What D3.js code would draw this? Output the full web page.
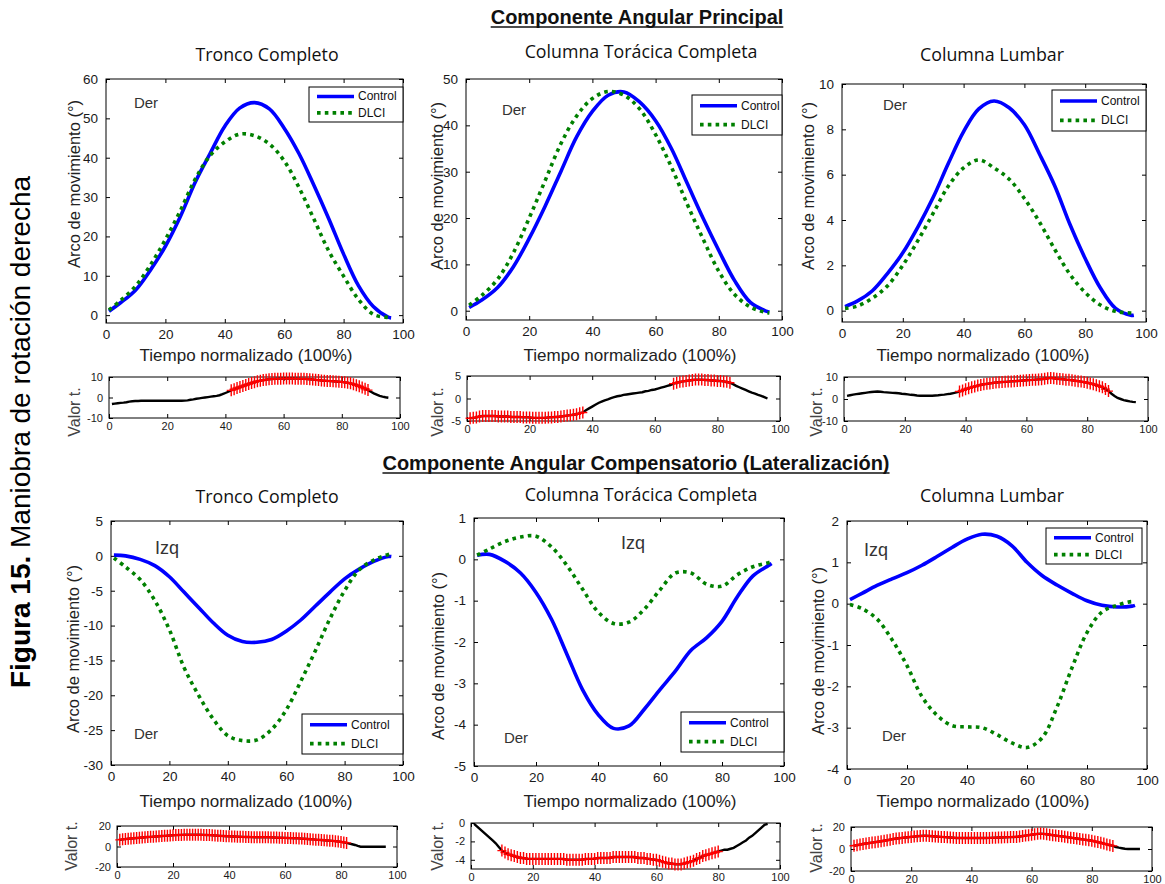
<!DOCTYPE html>
<html>
<head>
<meta charset="utf-8">
<script src="https://cdn.jsdelivr.net/npm/d3@7"></script>
<style>
  body { margin: 0; background: #fff; }
  svg { display: block; }
</style>
</head>
<body>
<svg id="fig" width="1165" height="884"></svg>
<script>
// ---------------------------------------------------------------
// Data
// ---------------------------------------------------------------
const tiempo = [1, 5, 10, 15, 20, 25, 30, 35, 40, 45, 50, 55, 60, 65, 70, 75, 80, 85, 90, 95, 96];
const tiempoT = d3.range(1, 97); // one t value per % of the cycle

// Componente angular principal (°)
const troncoPrinControl = [1.0, 3.2, 6.4, 11.5, 17.5, 25, 33.7, 41, 48, 52.6, 54, 52.4, 47.5, 41, 33, 24.5, 15.5, 7.5, 2.2, -0.5, -0.7];
const troncoPrinDLCI    = [1.3, 3.8, 7.4, 12.8, 19.2, 26.5, 34.5, 40.5, 44, 46, 45.6, 43.5, 39.2, 32.4, 24.4, 16.3, 9.9, 4, 0.2, -0.6, -0.7];
const toraxPrinControl  = [0.7, 2.3, 5, 9.5, 15.6, 22.5, 30, 37.5, 43, 46.5, 47.2, 45, 41, 35, 27.5, 20, 13, 6.5, 1.8, -0.1, -0.3];
const toraxPrinDLCI     = [1.2, 3.3, 6.8, 12.5, 20, 28, 36, 42, 45.8, 47.3, 46.5, 43.5, 38, 31, 23, 15.5, 8.5, 3.5, 0.8, -0.4, -0.5];
const lumbarPrinControl = [0.18, 0.42, 0.88, 1.65, 2.55, 3.7, 5.0, 6.5, 7.9, 8.9, 9.25, 8.95, 8.2, 6.9, 5.5, 3.8, 2.3, 1.0, 0.1, -0.2, -0.2];
const lumbarPrinDLCI    = [0.1, 0.2, 0.55, 1.1, 2.0, 3.1, 4.3, 5.5, 6.3, 6.65, 6.3, 5.8, 4.95, 3.9, 2.7, 1.6, 0.8, 0.25, -0.03, -0.1, -0.1];

// Componente angular compensatorio, lateralización (°)
const troncoCompControl = [0.1, 0, -0.5, -1.4, -3.0, -5.2, -7.4, -9.6, -11.4, -12.3, -12.4, -12, -10.8, -9.2, -7.2, -5.2, -3.3, -1.9, -0.8, -0.1, -0.1];
const troncoCompDLCI    = [-0.3, -1.6, -3.4, -6.4, -10.6, -16, -20, -23.4, -25.8, -26.5, -26.4, -24.9, -22.1, -18, -13.6, -9.0, -5.0, -2, -0.6, 0.2, 0.3];
const toraxCompControl  = [0.1, 0.12, -0.05, -0.33, -0.8, -1.45, -2.3, -3.15, -3.75, -4.09, -4.03, -3.62, -3.15, -2.7, -2.2, -1.9, -1.5, -0.9, -0.4, -0.15, -0.1];
const toraxCompDLCI     = [0.1, 0.25, 0.43, 0.54, 0.56, 0.3, -0.15, -0.72, -1.27, -1.55, -1.52, -1.2, -0.74, -0.33, -0.33, -0.6, -0.65, -0.37, -0.18, -0.08, -0.06];
const lumbarCompControl = [0.1, 0.25, 0.44, 0.6, 0.75, 0.93, 1.14, 1.36, 1.56, 1.68, 1.63, 1.4, 1.0, 0.68, 0.45, 0.25, 0.07, -0.04, -0.08, -0.06, -0.04];
const lumbarCompDLCI    = [-0.02, -0.12, -0.37, -0.87, -1.5, -2.25, -2.7, -2.95, -2.98, -3.0, -3.17, -3.37, -3.48, -3.25, -2.5, -1.55, -0.7, -0.2, -0.04, 0.05, 0.03];

// Valores t (Control vs DLCI), 1..96 %
const tTroncoPrin = [-3.2,-3.0,-2.8,-2.6,-2.5,-2.3,-2.0,-1.8,-1.7,-1.7,-1.6,-1.6,-1.6,-1.6,-1.6,-1.6,-1.6,-1.6,-1.6,-1.6,
  -1.6,-1.6,-1.6,-1.6,-1.6,-1.5,-1.4,-1.1,-0.9,-0.6,-0.4,-0.2,0.0,0.2,0.4,0.6,0.8,1.1,1.6,2.2,
  2.8,3.5,4.0,4.6,5.1,5.6,6.1,6.6,7.1,7.5,7.9,8.2,8.5,8.7,8.9,9.0,9.1,9.2,9.2,9.3,
  9.3,9.3,9.3,9.2,9.2,9.1,9.1,9.0,8.9,8.8,8.6,8.5,8.3,8.2,8.1,8.0,7.9,7.8,7.7,7.6,
  7.4,7.2,6.9,6.5,6.0,5.5,4.9,4.3,3.6,2.8,2.0,1.4,0.8,0.4,0.1,-0.1];
const tToraxPrin = [-4.4,-4.3,-4.2,-4.0,-3.9,-3.9,-3.9,-3.9,-3.9,-4.0,-4.0,-4.0,-4.0,-4.1,-4.1,-4.1,-4.1,-4.2,-4.2,-4.2,
  -4.3,-4.3,-4.3,-4.3,-4.3,-4.2,-4.2,-4.1,-4.1,-4.0,-3.9,-3.8,-3.7,-3.6,-3.5,-3.3,-3.1,-2.6,-2.2,-1.8,
  -1.4,-1.0,-0.7,-0.4,-0.2,0.1,0.3,0.5,0.6,0.8,0.9,1.0,1.1,1.2,1.3,1.4,1.6,1.7,1.9,2.0,
  2.2,2.4,2.6,2.8,3.0,3.3,3.5,3.7,3.8,3.9,4.0,4.1,4.2,4.2,4.2,4.1,4.1,4.0,4.0,3.9,
  3.9,3.8,3.7,3.5,3.2,2.8,2.5,2.2,1.9,1.6,1.3,1.1,0.8,0.6,0.3,0.0];
const tLumbarPrin = [1.4,1.7,2.0,2.2,2.4,2.6,2.8,3.0,3.2,3.3,3.4,3.3,3.1,3.0,2.9,2.8,2.7,2.6,2.4,2.3,
  2.1,1.9,1.8,1.6,1.5,1.5,1.5,1.5,1.5,1.6,1.7,1.9,2.0,2.2,2.4,2.7,3.0,3.4,3.9,4.4,
  4.9,5.3,5.7,6.1,6.4,6.7,6.9,7.1,7.3,7.5,7.6,7.7,7.8,7.9,8.0,8.1,8.2,8.3,8.4,8.5,
  8.6,8.7,8.8,8.9,9.0,9.2,9.4,9.6,9.4,9.2,9.1,9.0,8.8,8.7,8.5,8.3,8.1,7.9,7.7,7.4,
  7.1,6.7,6.3,5.8,5.3,4.5,3.6,2.4,1.4,0.5,0.0,-0.5,-0.8,-1.1,-1.3,-1.4];
const tTroncoComp = [6.5,7.0,7.2,7.5,7.8,8.0,8.3,8.5,8.8,9.0,9.2,9.4,9.6,9.8,10.0,10.2,10.4,10.6,10.8,11.0,
  11.1,11.2,11.3,11.4,11.5,11.5,11.5,11.5,11.5,11.4,11.3,11.2,11.1,11.0,10.8,10.6,10.4,10.2,10.0,9.9,
  9.8,9.7,9.6,9.5,9.4,9.3,9.2,9.1,9.0,9.0,9.0,9.0,9.0,9.0,8.9,8.8,8.7,8.6,8.5,8.4,
  8.3,8.2,8.1,8.0,7.9,7.7,7.5,7.3,7.1,6.9,6.7,6.5,6.3,6.1,5.9,5.7,5.5,5.2,4.9,4.5,
  4.0,3.5,2.8,2.2,1.5,0.6,-0.2,-0.3,-0.3,-0.3,-0.3,-0.3,-0.3,-0.3,-0.3,-0.3];
const tToraxComp = [-0.1,-0.4,-0.7,-1.0,-1.3,-1.6,-1.9,-2.2,-2.6,-3.0,-3.2,-3.4,-3.5,-3.6,-3.7,-3.8,-3.8,-3.9,-3.9,-3.9,
  -3.9,-3.9,-3.9,-3.9,-3.9,-3.9,-3.9,-3.9,-3.9,-3.9,-4.0,-4.0,-4.0,-4.0,-4.0,-4.0,-3.9,-3.9,-3.9,-3.9,
  -3.8,-3.8,-3.8,-3.8,-3.8,-3.7,-3.7,-3.7,-3.7,-3.7,-3.7,-3.7,-3.7,-3.8,-3.8,-3.8,-3.9,-3.9,-4.0,-4.0,
  -4.1,-4.2,-4.3,-4.4,-4.4,-4.5,-4.5,-4.5,-4.4,-4.3,-4.2,-4.1,-3.9,-3.8,-3.6,-3.5,-3.4,-3.3,-3.2,-3.1,
  -3.0,-2.9,-2.9,-2.8,-2.7,-2.5,-2.3,-2.1,-1.9,-1.6,-1.4,-1.1,-0.8,-0.5,-0.2,-0.1];
const tLumbarComp = [3.0,3.5,4.0,4.5,5.0,5.4,5.8,6.2,6.6,7.0,7.5,8.0,8.5,9.0,9.5,9.8,10.1,10.4,10.7,11.0,
  11.3,11.6,11.8,12.0,12.0,11.8,11.6,11.4,11.2,11.0,10.8,10.6,10.4,10.2,10.0,10.0,10.0,10.0,10.0,10.0,
  10.0,10.0,10.0,10.0,10.0,10.1,10.2,10.3,10.4,10.5,10.6,10.7,10.8,10.9,11.0,11.4,11.8,12.2,12.6,13.0,
  13.4,13.8,14.0,13.8,13.4,13.0,12.6,12.2,11.8,11.5,11.1,10.7,10.3,9.9,9.5,9.1,8.7,8.3,7.9,7.5,
  6.9,6.3,5.6,4.9,4.2,3.5,2.8,1.8,1.2,0.7,0.2,0.0,0.0,0.0,0.0,0.0];

// Tramos significativos (% inicial, % final)
const sigTroncoPrin = [[42, 89]];
const sigToraxPrin  = [[1, 37], [66, 84]];
const sigLumbarPrin = [[38, 87]];
const sigTroncoComp = [[1, 82]];
const sigToraxComp  = [[10, 80]];
const sigLumbarComp = [[1, 87]];

// Texts and ticks
const seriesNames = ["Control", "DLCI"];
const subplotTitles = ["Tronco Completo", "Columna Torácica Completa", "Columna Lumbar"];
const sectionTitles = ["Componente Angular Principal", "Componente Angular Compensatorio (Lateralización)"];
const xTicks = [0, 20, 40, 60, 80, 100];

// ---------------------------------------------------------------
// Drawing helpers
// ---------------------------------------------------------------
const FONT = "'Liberation Sans', Arial, sans-serif";
const TITLE_FONT = "'Open Sans', 'Noto Sans', sans-serif";
const BLUE = "#0000ff", GREEN = "#008000", RED = "#ff0000";
const fmt = d => String(d);
const svg = d3.select("#fig");

function frame(g, x, y, xT, yT, fs, xPad, yPad) {
  const [x0, x1] = x.range();
  const [yb, yt] = y.range();
  g.append("rect").attr("x", x0).attr("y", yt).attr("width", x1 - x0).attr("height", yb - yt)
    .attr("fill", "#fff").attr("stroke", "#000").attr("stroke-width", 1);
  const put = (axis, tr) => {
    const a = g.append("g").attr("transform", tr).call(axis);
    a.select(".domain").remove();
    a.selectAll("line").attr("stroke", "#000");
    a.selectAll("text").attr("font-size", fs).attr("font-family", FONT).attr("fill", "#1a1a1a");
    return a;
  };
  put(d3.axisBottom(x).tickValues(xT).tickSizeInner(-4).tickSizeOuter(0).tickPadding(xPad).tickFormat(fmt), `translate(0,${yb})`);
  put(d3.axisTop(x).tickValues(xT).tickSizeInner(-4).tickSizeOuter(0).tickFormat(""), `translate(0,${yt})`);
  put(d3.axisLeft(y).tickValues(yT).tickSizeInner(-4).tickSizeOuter(0).tickPadding(yPad).tickFormat(fmt), `translate(${x0},0)`);
  put(d3.axisRight(y).tickValues(yT).tickSizeInner(-4).tickSizeOuter(0).tickFormat(""), `translate(${x1},0)`);
}

function rotatedLabel(txt, cx, cy, fs, color) {
  svg.append("text").attr("transform", `translate(${cx},${cy}) rotate(-90)`)
    .attr("text-anchor", "middle").attr("dominant-baseline", "central")
    .attr("font-family", FONT).attr("font-size", fs).attr("fill", color).text(txt);
}

function mainPanel(p, control, dlci) {
  const g = svg.append("g");
  const x = d3.scaleLinear().domain([0, 100]).range([p.l, p.r]);
  const y = d3.scaleLinear().domain(p.yd).range([p.b, p.t]);
  frame(g, x, y, xTicks, p.yt, 13.5, 6, 8);

  const line = d3.line().x((d, i) => x(tiempo[i])).y(d => y(d)).curve(d3.curveCatmullRom.alpha(0.5));
  g.append("path").datum(control).attr("d", line).attr("fill", "none")
    .attr("stroke", BLUE).attr("stroke-width", 3.6).attr("stroke-linejoin", "round");
  g.append("path").datum(dlci).attr("d", line).attr("fill", "none")
    .attr("stroke", GREEN).attr("stroke-width", 3.6).attr("stroke-dasharray", "3.6,4.2");

  // legend
  const L = p.leg;
  const lg = g.append("g");
  lg.append("rect").attr("x", L.x).attr("y", L.y).attr("width", L.w).attr("height", L.h)
    .attr("fill", "#fff").attr("stroke", "#000").attr("stroke-width", 1);
  const rows = [L.y + L.h * 0.27, L.y + L.h * 0.74];
  seriesNames.forEach((name, i) => {
    lg.append("line").attr("x1", L.x + 8).attr("x2", L.x + 45).attr("y1", rows[i]).attr("y2", rows[i])
      .attr("stroke", i === 0 ? BLUE : GREEN).attr("stroke-width", 3.6)
      .attr("stroke-dasharray", i === 0 ? null : "3.6,4.2");
    lg.append("text").attr("x", L.x + 49).attr("y", rows[i]).attr("dominant-baseline", "central")
      .attr("font-family", FONT).attr("font-size", 12).attr("fill", "#111").text(name);
  });

  // side annotations
  p.notes.forEach(n => {
    g.append("text").attr("x", n.x).attr("y", n.y).attr("text-anchor", "middle")
      .attr("dominant-baseline", "central").attr("font-family", FONT).attr("font-size", n.fs)
      .attr("fill", "#333").text(n.t);
  });

  // labels
  svg.append("text").attr("x", p.xl[0]).attr("y", p.xl[1]).attr("text-anchor", "middle")
    .attr("dominant-baseline", "central").attr("font-family", FONT).attr("font-size", 17)
    .attr("fill", "#222").text("Tiempo normalizado (100%)");
  rotatedLabel("Arco de movimiento (°)", p.yl[0], p.yl[1], 16.5, "#222");
  svg.append("text").attr("x", p.title[0]).attr("y", p.title[1]).attr("text-anchor", "middle")
    .attr("dominant-baseline", "central").attr("font-family", TITLE_FONT).attr("font-size", 17.8)
    .attr("fill", "#111").text(p.titleText);
}

function tPanel(p, tvals, sig) {
  const g = svg.append("g");
  const x = d3.scaleLinear().domain([0, 100]).range([p.l, p.r]);
  const y = d3.scaleLinear().domain(p.yd).range([p.b, p.t]);
  frame(g, x, y, xTicks, p.yt, 11, 4, 6);

  const pts = tvals.map((v, i) => ({ t: tiempoT[i], v }));
  g.append("path").datum(pts)
    .attr("d", d3.line().x(d => x(d.t)).y(d => y(d.v)))
    .attr("fill", "none").attr("stroke", "#000").attr("stroke-width", 2.4);

  const isSig = d => sig.some(([a, b]) => d.t >= a && d.t <= b);
  g.append("g").selectAll("path").data(pts.filter(isSig)).join("path")
    .attr("transform", d => `translate(${x(d.t)},${y(d.v)})`)
    .attr("d", "M-4.5,0H4.5M0,-6V6")
    .attr("stroke", RED).attr("stroke-width", 1.4).attr("fill", "none");

  rotatedLabel("Valor t.", p.lab[0], p.lab[1], 16, "#444");
}

// ---------------------------------------------------------------
// Figure
// ---------------------------------------------------------------
const mainPanels = [
  { l: 106, r: 403, t: 79, b: 323, yd: [-2, 60], yt: [0, 10, 20, 30, 40, 50, 60],
    leg: { x: 309, y: 87, w: 94, h: 35 }, notes: [{ t: "Der", x: 146, y: 102, fs: 15 }],
    xl: [246, 355], yl: [74, 184], title: [267, 54], titleText: subplotTitles[0] },
  { l: 466, r: 782, t: 79, b: 320, yd: [-2, 50], yt: [0, 10, 20, 30, 40, 50],
    leg: { x: 692, y: 95, w: 90, h: 40 }, notes: [{ t: "Der", x: 514, y: 109, fs: 15 }],
    xl: [630, 355], yl: [437, 186], title: [641, 51], titleText: subplotTitles[1] },
  { l: 842, r: 1146, t: 84, b: 322, yd: [-0.5, 10], yt: [0, 2, 4, 6, 8, 10],
    leg: { x: 1052, y: 90, w: 94, h: 41 }, notes: [{ t: "Der", x: 895, y: 104, fs: 15 }],
    xl: [983, 355], yl: [808, 186], title: [992, 54], titleText: subplotTitles[2] },
  { l: 111, r: 403, t: 521, b: 765, yd: [-30, 5], yt: [-30, -25, -20, -15, -10, -5, 0, 5],
    leg: { x: 302, y: 714, w: 101, h: 40 },
    notes: [{ t: "Izq", x: 167, y: 548, fs: 18 }, { t: "Der", x: 146, y: 733, fs: 15 }],
    xl: [246, 801], yl: [73, 649], title: [267, 496], titleText: subplotTitles[0] },
  { l: 474, r: 784, t: 518, b: 766, yd: [-5, 1], yt: [-5, -4, -3, -2, -1, 0, 1],
    leg: { x: 681, y: 712, w: 103, h: 40 },
    notes: [{ t: "Izq", x: 633, y: 543, fs: 18 }, { t: "Der", x: 516, y: 737, fs: 15 }],
    xl: [630, 801], yl: [438, 656], title: [641, 494], titleText: subplotTitles[1] },
  { l: 847, r: 1147, t: 521, b: 769, yd: [-4, 2], yt: [-4, -3, -2, -1, 0, 1, 2],
    leg: { x: 1046, y: 528, w: 96, h: 36 },
    notes: [{ t: "Izq", x: 876, y: 550, fs: 18 }, { t: "Der", x: 894, y: 735, fs: 15 }],
    xl: [983, 801], yl: [818, 651], title: [992, 495], titleText: subplotTitles[2] }
];

const tPanels = [
  { l: 109, r: 400, t: 377, b: 418, yd: [-10, 10], yt: [-10, 0, 10], lab: [74, 412] },
  { l: 467, r: 780, t: 376, b: 421, yd: [-5, 5], yt: [-5, 0, 5], lab: [437, 412] },
  { l: 844, r: 1148, t: 377, b: 421, yd: [-10, 10], yt: [-10, 0, 10], lab: [816, 412] },
  { l: 117, r: 397, t: 826, b: 867, yd: [-20, 20], yt: [-20, 0, 20], lab: [71, 846] },
  { l: 471, r: 780, t: 823, b: 869, yd: [-5, 0], yt: [-4, -2, 0], lab: [437, 846] },
  { l: 851, r: 1152, t: 827, b: 871, yd: [-20, 20], yt: [-20, 0, 20], lab: [816, 848] }
];

mainPanel(mainPanels[0], troncoPrinControl, troncoPrinDLCI);
mainPanel(mainPanels[1], toraxPrinControl, toraxPrinDLCI);
mainPanel(mainPanels[2], lumbarPrinControl, lumbarPrinDLCI);
mainPanel(mainPanels[3], troncoCompControl, troncoCompDLCI);
mainPanel(mainPanels[4], toraxCompControl, toraxCompDLCI);
mainPanel(mainPanels[5], lumbarCompControl, lumbarCompDLCI);

tPanel(tPanels[0], tTroncoPrin, sigTroncoPrin);
tPanel(tPanels[1], tToraxPrin, sigToraxPrin);
tPanel(tPanels[2], tLumbarPrin, sigLumbarPrin);
tPanel(tPanels[3], tTroncoComp, sigTroncoComp);
tPanel(tPanels[4], tToraxComp, sigToraxComp);
tPanel(tPanels[5], tLumbarComp, sigLumbarComp);

// Section headings, bold and underlined
[[637, 17], [636, 463]].forEach(([cx, cy], i) => {
  const t = svg.append("text").attr("x", cx).attr("y", cy).attr("text-anchor", "middle")
    .attr("dominant-baseline", "central").attr("font-family", FONT).attr("font-size", 20)
    .attr("font-weight", "bold").attr("fill", "#111").text(sectionTitles[i]);
  const bb = t.node().getBBox();
  svg.append("line").attr("x1", bb.x).attr("x2", bb.x + bb.width)
    .attr("y1", cy + 10).attr("y2", cy + 10).attr("stroke", "#111").attr("stroke-width", 1.5);
});

// Figure caption along the left edge
const cap = svg.append("text").attr("transform", "translate(30,432) rotate(-90)")
  .attr("text-anchor", "middle").attr("font-family", FONT).attr("font-size", 28).attr("fill", "#000");
cap.append("tspan").attr("font-weight", "bold").text("Figura 15.");
cap.append("tspan").text(" Maniobra de rotación derecha");
</script>
</body>
</html>
